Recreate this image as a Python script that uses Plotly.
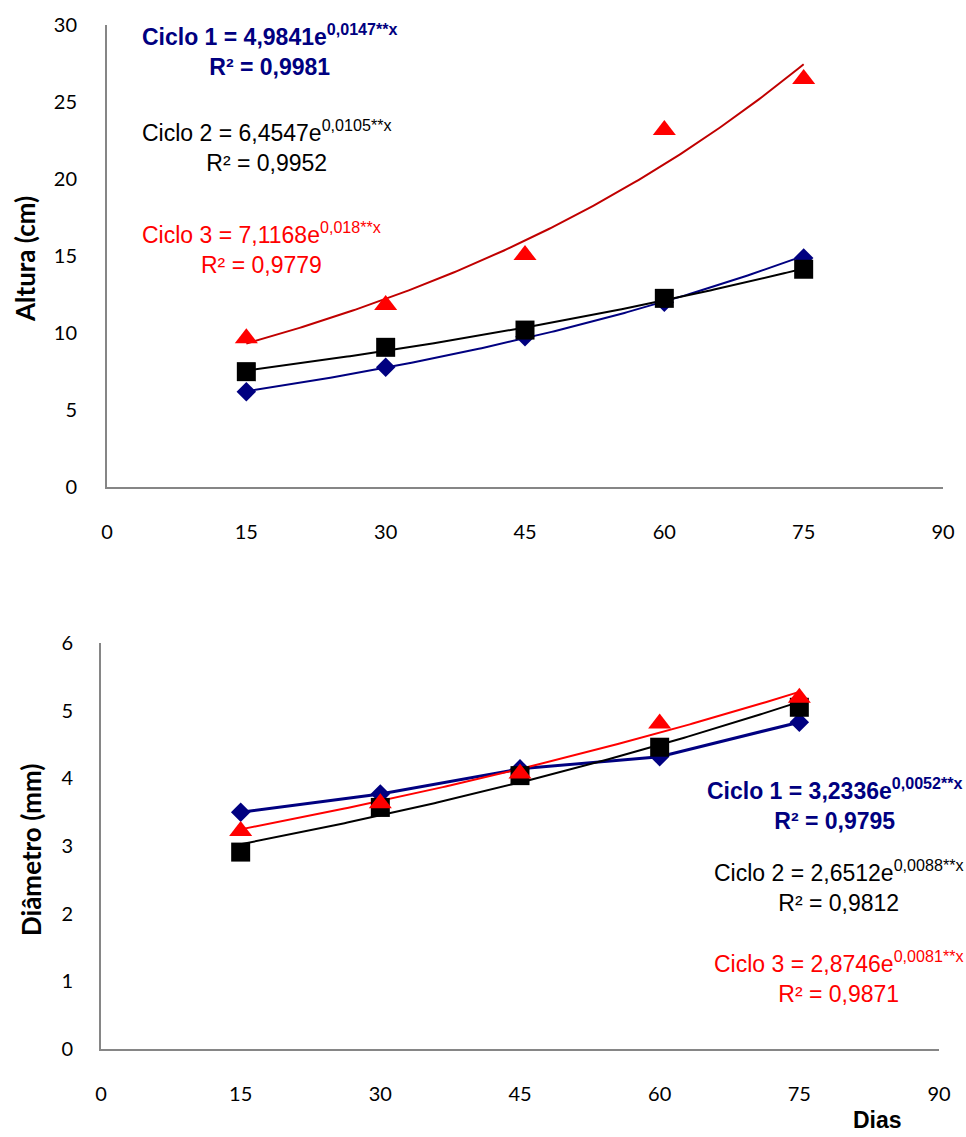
import numpy as np
import plotly.graph_objects as go

W, H = 966, 1137

# ---------------- data ----------------
dias = [15, 30, 45, 60, 75]

# Altura (cm)
alt_c1 = [6.19, 7.77, 9.76, 12.0, 14.87]
alt_c2 = [7.49, 9.07, 10.19, 12.25, 14.14]
alt_c3 = [9.66, 11.82, 15.06, 23.18, 26.5]
alt_a = [4.9841, 6.4547, 7.1168]
alt_b = [0.0147, 0.0105, 0.018]

# Diâmetro (mm)
dia_c1 = [3.50, 3.77, 4.14, 4.32, 4.83]
dia_c2 = [2.91, 3.57, 4.04, 4.46, 5.05]
dia_c3 = [3.22, 3.63, 4.07, 4.81, 5.19]
dia_a = [3.2336, 2.6512, 2.8746]
dia_b = [0.0052, 0.0088, 0.0081]

x_ticks = [0, 15, 30, 45, 60, 75, 90]
alt_ticks = [0, 5, 10, 15, 20, 25, 30]
dia_ticks = [0, 1, 2, 3, 4, 5, 6]

eq_alt = [
    ("<b>Ciclo 1 = 4,9841e<sup>0,0147**x</sup><br>R² = 0,9981</b>", "#000080"),
    ("Ciclo 2 = 6,4547e<sup>0,0105**x</sup><br>R² = 0,9952", "#000000"),
    ("Ciclo 3 = 7,1168e<sup>0,018**x</sup><br>R² = 0,9779", "#FF0000"),
]
eq_dia = [
    ("<b>Ciclo 1 = 3,2336e<sup>0,0052**x</sup><br>R² = 0,9795</b>", "#000080"),
    ("Ciclo 2 = 2,6512e<sup>0,0088**x</sup><br>R² = 0,9812", "#000000"),
    ("Ciclo 3 = 2,8746e<sup>0,0081**x</sup><br>R² = 0,9871", "#FF0000"),
]

# ---------------- figure ----------------
fig = go.Figure()
xs = np.linspace(15, 75, 200)

line_cols_top = ["#000080", "#000000", "#C00000"]
line_cols_bot = ["#000080", "#000000", "#FF0000"]

# top: trend curves
for a, b, c in zip(alt_a, alt_b, line_cols_top):
    fig.add_trace(go.Scatter(x=xs, y=a * np.exp(b * xs), mode="lines",
                             line=dict(color=c, width=2), xaxis="x", yaxis="y",
                             showlegend=False, hoverinfo="skip"))
# top markers
fig.add_trace(go.Scatter(x=dias, y=alt_c1, mode="markers", xaxis="x", yaxis="y",
                         marker=dict(symbol="diamond", size=15, color="#000080"), showlegend=False))
fig.add_trace(go.Scatter(x=dias, y=alt_c2, mode="markers", xaxis="x", yaxis="y",
                         marker=dict(symbol="square", size=19, color="#000000"), showlegend=False))
fig.add_trace(go.Scatter(x=dias, y=alt_c3, mode="markers", xaxis="x", yaxis="y",
                         marker=dict(symbol="triangle-up", size=20, color="#FF0000"), showlegend=False))

# bottom: ciclo 1 line through points, others trend curves
fig.add_trace(go.Scatter(x=dias, y=dia_c1, mode="lines", xaxis="x2", yaxis="y2",
                         line=dict(color="#000080", width=3), showlegend=False, hoverinfo="skip"))
for a, b, c in zip(dia_a[1:], dia_b[1:], line_cols_bot[1:]):
    fig.add_trace(go.Scatter(x=xs, y=a * np.exp(b * xs), mode="lines",
                             line=dict(color=c, width=2), xaxis="x2", yaxis="y2",
                             showlegend=False, hoverinfo="skip"))
fig.add_trace(go.Scatter(x=dias, y=dia_c1, mode="markers", xaxis="x2", yaxis="y2",
                         marker=dict(symbol="diamond", size=15, color="#000080"), showlegend=False))
fig.add_trace(go.Scatter(x=dias, y=dia_c2, mode="markers", xaxis="x2", yaxis="y2",
                         marker=dict(symbol="square", size=19, color="#000000"), showlegend=False))
fig.add_trace(go.Scatter(x=dias, y=dia_c3, mode="markers", xaxis="x2", yaxis="y2",
                         marker=dict(symbol="triangle-up", size=20, color="#FF0000"), showlegend=False))

tick_font = dict(family="Lato, Open Sans, sans-serif", size=20, color="#000000")
axis_common = dict(showline=True, linecolor="#868686", linewidth=2, showgrid=False,
                   zeroline=False, ticks="", tickfont=tick_font, fixedrange=True,
                   automargin=False)

fig.update_layout(
    template="none",
    width=W, height=H,
    margin=dict(l=0, r=0, t=0, b=0),
    paper_bgcolor="white", plot_bgcolor="white",
    xaxis=dict(domain=[107 / W, 943 / W], range=[0, 90], tickvals=x_ticks,
               anchor="y", ticklabelstandoff=26, **axis_common),
    yaxis=dict(domain=[1 - 487 / H, 1 - 25 / H], range=[0, 30], tickvals=alt_ticks,
               anchor="x", ticklabelstandoff=24, **axis_common),
    xaxis2=dict(domain=[101 / W, 939 / W], range=[0, 90], tickvals=x_ticks,
                anchor="y2", ticklabelstandoff=26, **axis_common),
    yaxis2=dict(domain=[1 - 1049 / H, 1 - 643 / H], range=[0, 6], tickvals=dia_ticks,
                anchor="x2", ticklabelstandoff=22, **axis_common),
)

eq_font = "Liberation Sans, Arial, sans-serif"
for (txt, col), yc in zip(eq_alt, [50, 146, 247.5]):
    fig.add_annotation(x=140 / W, y=1 - yc / H, xref="paper", yref="paper",
                       xanchor="left", yanchor="middle", align="center", showarrow=False,
                       text=txt, font=dict(family=eq_font, size=23, color=col))
for (txt, col), yc in zip(eq_dia, [804, 886, 976.5]):
    fig.add_annotation(x=965 / W, y=1 - yc / H, xref="paper", yref="paper",
                       xanchor="right", yanchor="middle", align="center", showarrow=False,
                       text=txt, font=dict(family=eq_font, size=23, color=col))

title_font = dict(family="Lato, Open Sans, sans-serif", size=26, color="#000000")
fig.add_annotation(x=25 / W, y=1 - 259 / H, xref="paper", yref="paper", textangle=-90,
                   xanchor="center", yanchor="middle", showarrow=False,
                   text="<b>Altura (cm)</b>", font=title_font)
fig.add_annotation(x=31 / W, y=1 - 850 / H, xref="paper", yref="paper", textangle=-90,
                   xanchor="center", yanchor="middle", showarrow=False,
                   text="<b>Diâmetro (mm)</b>", font=title_font)
fig.add_annotation(x=877 / W, y=1 - 1120 / H, xref="paper", yref="paper",
                   xanchor="center", yanchor="middle", showarrow=False,
                   text="<b>Dias</b>", font=dict(family=eq_font, size=23, color="#000000"))

fig.write_html("out.html", config={"displayModeBar": False},
               post_script="document.body.style.margin='0';document.body.style.overflow='hidden';")
